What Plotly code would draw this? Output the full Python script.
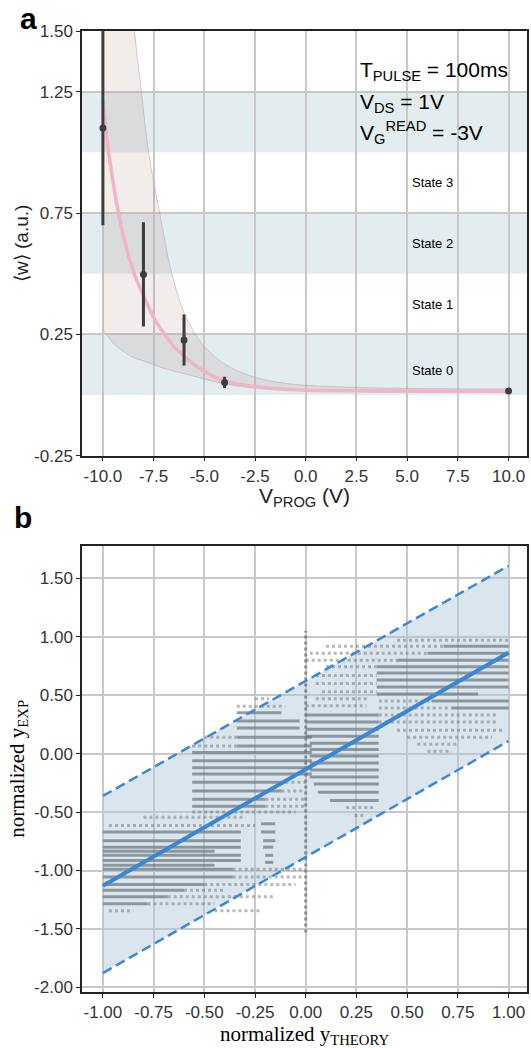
import plotly.graph_objects as go

# ---- panel a: mean weight vs programming voltage ----
v_prog = [-10, -8, -6, -4, 10]
w_mean = [1.10, 0.497, 0.227, 0.052, 0.016]
w_err = [0.40, 0.215, 0.105, 0.023, 0.006]

fit_v = [-10, -9.75, -9.5, -9.25, -9, -8.5, -8, -7.5, -7, -6.5, -6, -5.5, -5,
         -4.5, -4, -3, -2, -1, 0, 2.5, 5, 10]
fit_w = [1.21, 1.02, 0.88, 0.76, 0.66, 0.51, 0.41, 0.32, 0.255, 0.20, 0.16,
         0.125, 0.097, 0.075, 0.058, 0.04, 0.03, 0.024, 0.02, 0.017, 0.016, 0.015]

upper_v = [-10, -9.5, -9, -8.44, -8.1, -7.75, -7.2, -6.6, -6, -5.5, -5, -4,
           -2.5, -1, 0, 2.5, 5, 10]
upper_w = [3.8, 2.8, 2.1, 1.5, 1.25, 1.0, 0.75, 0.5, 0.34, 0.26, 0.2, 0.128,
           0.073, 0.048, 0.04, 0.031, 0.027, 0.025]
lower_v = [-10, -9.5, -9, -8.5, -8, -7.5, -7, -6, -5, -4, -3, -2, 0, 5, 10]
lower_w = [0.27, 0.215, 0.18, 0.155, 0.14, 0.125, 0.11, 0.088, 0.066, 0.046,
           0.033, 0.025, 0.017, 0.012, 0.01]

state_lo = [0.0, 0.5, 1.0]
state_hi = [0.25, 0.75, 1.25]
state_names = ["State 0", "State 1", "State 2", "State 3"]
state_label_y = [0.10, 0.375, 0.625, 0.875]

xa_ticks = [-10, -7.5, -5, -2.5, 0, 2.5, 5, 7.5, 10]
xa_text = ["-10.0", "-7.5", "-5.0", "-2.5", "0.0", "2.5", "5.0", "7.5", "10.0"]
ya_ticks = [1.5, 1.25, 0.75, 0.25, -0.25]
ya_text = ["1.50", "1.25", "0.75", "0.25", "-0.25"]

# ---- panel b: experiment vs theory ----
fit_x = [-1.0, 1.0]
fit_y = [-1.13, 0.863]
band_up = [-0.362, 1.608]
band_lo = [-1.878, 0.108]

# horizontal streaks of overlapping points: (y, x start, x end)
dense_y = [-0.67, -0.745, -0.80, -0.835, -0.87, -0.915, -0.955, -0.99, -1.055,
           -1.12, -1.17, -1.225, -1.285,
           -0.60, -0.67, -0.745, -0.80, -0.87, -0.93,
           0.35, 0.28, 0.22, 0.14, 0.065, 0.01, -0.06, -0.12, -0.175, -0.245,
           -0.32, -0.39, -0.45,
           0.33, 0.27, 0.21, 0.15, 0.09, 0.035, -0.02, -0.08, -0.14, -0.20,
           -0.26, -0.33, -0.40,
           0.92, 0.86, 0.80, 0.745, 0.69, 0.63, 0.57, 0.51, 0.45, 0.39]
dense_x0 = [-1.0, -1.0, -1.0, -1.0, -1.0, -1.0, -1.0, -1.0, -1.0,
            -1.0, -1.0, -1.0, -1.0,
            -0.22, -0.22, -0.21, -0.21, -0.20, -0.20,
            -0.34, -0.34, -0.34, -0.34, -0.34, -0.56, -0.56, -0.56, -0.56, -0.56,
            -0.56, -0.56, -0.56,
            0.0, 0.0, 0.0, 0.0, 0.02, 0.02, 0.02, 0.02, 0.02, 0.02,
            0.04, 0.06, 0.12,
            0.68, 0.60, 0.45, 0.35, 0.35, 0.35, 0.35, 0.35, 0.62, 0.72]
dense_x1 = [-0.32, -0.32, -0.32, -0.45, -0.32, -0.32, -0.45, -0.36, -0.36,
            -0.50, -0.60, -0.68, -0.78,
            -0.15, -0.15, -0.15, -0.16, -0.16, -0.16,
            -0.12, -0.03, -0.03, 0.03, 0.03, 0.03, 0.03, 0.03, 0.03, -0.10,
            -0.12, -0.20, -0.20,
            0.36, 0.36, 0.36, 0.36, 0.36, 0.36, 0.36, 0.36, 0.36, 0.36,
            0.36, 0.36, 0.36,
            1.0, 1.0, 1.0, 1.0, 1.0, 1.0, 1.0, 0.85, 1.0, 1.0]

sparse_y = [-0.545, -0.615, -0.99, -1.055, -1.12, -1.17, -1.225, -1.285, -1.345, -1.345,
            0.405, 0.47, -0.50, 0.065, 0.14, -0.245, -0.32, -0.39, -0.45,
            0.41, 0.47, 0.53, 0.60, 0.67, 0.745, 0.80, 0.86, 0.92, -0.46, -0.53,
            0.97, 0.33, 0.27, 0.20, 0.14, 0.08, 0.02, 0.45, 0.39]
sparse_x0 = [-0.80, -0.97, -0.36, -0.36, -0.50, -0.60, -0.68, -0.78, -0.97, -0.45,
             -0.34, -0.25, -0.56, -0.56, -0.50, -0.10, -0.12, -0.20, -0.20,
             0.0, 0.05, 0.08, 0.05, 0.05, 0.10, 0.0, 0.02, 0.10, 0.20, 0.24,
             0.45, 0.36, 0.36, 0.45, 0.50, 0.55, 0.60, 0.36, 0.36]
sparse_x1 = [-0.30, -0.25, 0.0, -0.02, -0.05, -0.40, -0.15, -0.45, -0.85, -0.22,
             -0.10, -0.18, -0.05, -0.34, -0.34, 0.0, 0.0, 0.0, 0.0,
             0.30, 0.30, 0.35, 0.35, 0.35, 0.35, 0.45, 0.60, 0.68, 0.34, 0.30,
             1.0, 0.95, 0.95, 0.98, 0.92, 0.75, 0.72, 0.62, 0.72]

# column of points at x = 0
col_x = 0.0
col_y0 = -1.53
col_y1 = 1.05

xb_ticks = [-1.0, -0.75, -0.5, -0.25, 0.0, 0.25, 0.5, 0.75, 1.0]
xb_text = ["-1.00", "-0.75", "-0.50", "-0.25", "0.00", "0.25", "0.50", "0.75", "1.00"]
yb_ticks = [1.5, 1.0, 0.5, 0.0, -0.5, -1.0, -1.5, -2.0]
yb_text = ["1.50", "1.00", "0.50", "0.00", "-0.50", "-1.00", "-1.50", "-2.00"]


def segments(x0s, x1s, ys):
    xs, yy = [], []
    for a, b, y in zip(x0s, x1s, ys):
        xs += [a, b, None]
        yy += [y, y, None]
    return xs, yy


fig = go.Figure()

# panel a
fig.add_trace(go.Scatter(x=lower_v, y=lower_w, mode="lines", line_shape="spline",
                         line=dict(color="rgba(190,160,155,0.5)", width=1),
                         xaxis="x", yaxis="y", hoverinfo="skip"))
fig.add_trace(go.Scatter(x=upper_v, y=upper_w, mode="lines", line_shape="spline",
                         line=dict(color="rgba(190,160,155,0.5)", width=1),
                         fill="tonexty", fillcolor="rgba(170,130,120,0.15)",
                         xaxis="x", yaxis="y", hoverinfo="skip"))
fig.add_trace(go.Scatter(x=fit_v, y=fit_w, mode="lines", line_shape="spline",
                         line=dict(color="#f0b4c6", width=3.5),
                         xaxis="x", yaxis="y"))
fig.add_trace(go.Scatter(x=v_prog, y=w_mean, mode="markers",
                         marker=dict(color="#3d3d3d", size=7),
                         error_y=dict(type="data", array=w_err, thickness=3,
                                      width=0, color="#3d3d3d"),
                         xaxis="x", yaxis="y"))

# panel b
fig.add_trace(go.Scatter(x=fit_x, y=band_lo, mode="lines", line=dict(width=0),
                         xaxis="x2", yaxis="y2", hoverinfo="skip"))
fig.add_trace(go.Scatter(x=fit_x, y=band_up, mode="lines", line=dict(width=0),
                         fill="tonexty", fillcolor="rgba(175,198,214,0.45)",
                         xaxis="x2", yaxis="y2", hoverinfo="skip"))
sx, sy = segments(sparse_x0, sparse_x1, sparse_y)
fig.add_trace(go.Scatter(x=sx, y=sy, mode="lines",
                         line=dict(color="rgba(105,118,124,0.5)", width=3, dash="dot"),
                         xaxis="x2", yaxis="y2"))
dx, dy = segments(dense_x0, dense_x1, dense_y)
fig.add_trace(go.Scatter(x=dx, y=dy, mode="lines",
                         line=dict(color="rgba(105,118,124,0.7)", width=3),
                         xaxis="x2", yaxis="y2"))
fig.add_trace(go.Scatter(x=[col_x, col_x], y=[col_y0, col_y1], mode="lines",
                         line=dict(color="rgba(105,118,124,0.75)", width=3, dash="dot"),
                         xaxis="x2", yaxis="y2"))
fig.add_trace(go.Scatter(x=fit_x, y=fit_y, mode="lines",
                         line=dict(color="#3a86d4", width=4),
                         xaxis="x2", yaxis="y2"))
for edge in (band_up, band_lo):
    fig.add_trace(go.Scatter(x=fit_x, y=edge, mode="lines",
                             line=dict(color="#3b88d8", width=2.5, dash="10px,5px"),
                             xaxis="x2", yaxis="y2"))

# state bands
for lo, hi in zip(state_lo, state_hi):
    fig.add_shape(type="rect", xref="x domain", yref="y", x0=0, x1=1, y0=lo, y1=hi,
                  fillcolor="#e3ecee", line=dict(width=0), layer="below")

annotations = []
for name, y in zip(state_names, state_label_y):
    annotations.append(dict(x=6.25, y=y, xref="x", yref="y", text=name, showarrow=False,
                            font=dict(size=13, color="black")))
params = ["T<sub>PULSE</sub> = 100ms", "V<sub>DS</sub> = 1V",
          "V<sub>G</sub><sup>READ</sup> = -3V"]
params_y = [1.335, 1.205, 1.08]
for t, y in zip(params, params_y):
    annotations.append(dict(x=2.6, y=y, xref="x", yref="y", text=t, showarrow=False,
                            xanchor="left", yanchor="middle",
                            font=dict(size=21, color="black")))
# panel letters
annotations.append(dict(x=-0.143, y=1.0323, xref="paper", yref="paper", text="<b>a</b>",
                        yanchor="top", showarrow=False, font=dict(size=30, color="black")))
annotations.append(dict(x=-0.158, y=0.4942, xref="paper", yref="paper", text="<b>b</b>",
                        showarrow=False, font=dict(size=30, color="black")))
# x title of panel a
annotations.append(dict(x=0.5, y=0.5155, xref="paper", yref="paper",
                        text="V<sub>PROG</sub> (V)", showarrow=False, yanchor="middle",
                        font=dict(size=21, color="#222")))

axis_style = dict(showline=True, mirror=True, linecolor="#222", linewidth=1.5,
                  ticks="outside", ticklen=4, tickcolor="#222",
                  showgrid=True, gridcolor="#c8c8c8", gridwidth=1.5, zeroline=False,
                  tickfont=dict(size=17, color="#333"))

fig.update_layout(
    width=531, height=1048,
    margin=dict(l=82, r=2, t=31, b=56),
    paper_bgcolor="white", plot_bgcolor="white",
    showlegend=False,
    font=dict(family="Liberation Sans, Arial, sans-serif", size=17, color="#333"),
    annotations=annotations,
    xaxis=dict(axis_style, domain=[0, 1], anchor="y", range=[-11.03, 10.91],
               tickvals=xa_ticks, ticktext=xa_text),
    yaxis=dict(axis_style, domain=[0.5581, 1], anchor="x", range=[-0.25, 1.5],
               tickvals=ya_ticks, ticktext=ya_text,
               title=dict(text="⟨w⟩ (a.u.)", font=dict(size=19, color="#222"),
                          standoff=0)),
    xaxis2=dict(axis_style, domain=[0, 1], anchor="y2", range=[-1.103, 1.091],
                tickvals=xb_ticks, ticktext=xb_text,
                title=dict(text="normalized y<sub>THEORY</sub>",
                           font=dict(size=21, color="black",
                                     family="Liberation Serif, Times New Roman, serif"),
                           standoff=2)),
    yaxis2=dict(axis_style, domain=[0, 0.4644], anchor="x2", range=[-2.04, 1.78],
                tickvals=yb_ticks, ticktext=yb_text,
                title=dict(text="normalized y<sub>EXP</sub>",
                           font=dict(size=21, color="black",
                                     family="Liberation Serif, Times New Roman, serif"),
                           standoff=4)),
)

fig.write_html("out.html", config={"displayModeBar": False},
               post_script="document.body.style.margin='0px';")
